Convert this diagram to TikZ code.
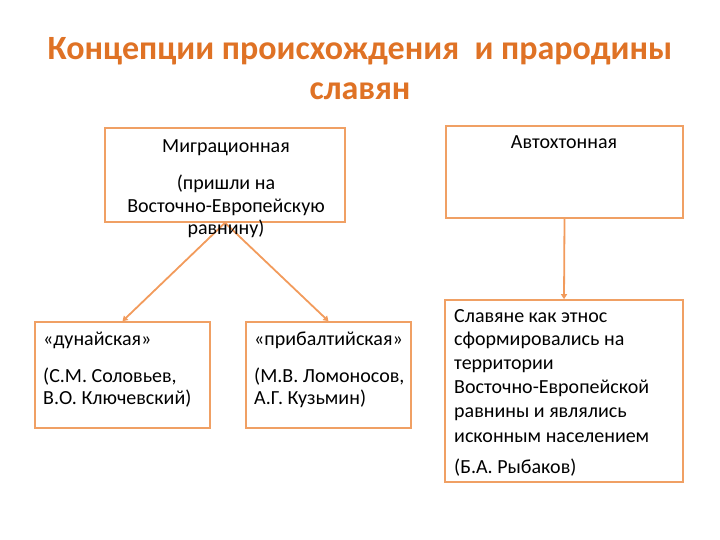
\documentclass[tikz,border=0pt]{standalone}
\usepackage{fontspec}
\setmainfont{Carlito}
\usetikzlibrary{arrows.meta}
\definecolor{titleorange}{HTML}{DF7225}
\definecolor{lineorange}{HTML}{F0A064}
\definecolor{arroworange}{HTML}{F29B5C}
\tikzset{
  box/.style={draw=lineorange, line width=1.6pt, inner sep=0pt},
  txt/.style={inner sep=0pt, font=\fontsize{20}{24}\selectfont, text=black},
  ttl/.style={inner sep=0pt, font=\fontsize{34}{40}\selectfont\bfseries, text=titleorange},
  arr/.style={draw=arroworange, line width=1.8pt, -{Triangle[length=5pt,width=6pt]}}
}
\begin{document}
\begin{tikzpicture}[x=1pt,y=-1pt]
\useasboundingbox (0,0) rectangle (720,540);
% title
\node[ttl, anchor=base] (t1) at (360,60) {Концепции происхождения\ \ и прародины};
\node[ttl, anchor=base] (t2) at (360,100) {славян};
% boxes
\node[box, minimum width=240pt, minimum height=94pt] (mig) at (225,175) {};
\node[box, minimum width=237pt, minimum height=92pt] (aut) at (564.5,172) {};
\node[box, minimum width=175pt, minimum height=106pt] (dun) at (122.5,375) {};
\node[box, minimum width=165pt, minimum height=106pt] (pri) at (328.5,375) {};
\node[box, minimum width=238pt, minimum height=182pt] (sla) at (564,391) {};
% connectors
\draw[arr] (mig.south) -- (dun.north);
\draw[arr] (mig.south) -- (pri.north);
\draw[arr] (aut.south) -- (sla.north);
% box texts
\node[txt, anchor=base] (m1) at (226,153) {Миграционная};
\node[txt, anchor=base] (m2) at (226,190) {(пришли на};
\node[txt, anchor=base] (m3) at (226,212) {Восточно-Европейскую};
\node[txt, anchor=base] (m4) at (226,234) {равнину)};
\node[txt, anchor=base] (a1) at (564,149) {Автохтонная};
\node[txt, anchor=base west] (d1) at (43,345) {«дунайская»};
\node[txt, anchor=base west] (d2) at (43,382) {(С.М. Соловьев,};
\node[txt, anchor=base west] (d3) at (43,404) {В.О. Ключевский)};
\node[txt, anchor=base west] (p1) at (254,345) {«прибалтийская»};
\node[txt, anchor=base west] (p2) at (254,382) {(М.В. Ломоносов,};
\node[txt, anchor=base west] (p3) at (254,404) {А.Г. Кузьмин)};
\node[txt, anchor=base west] (s1) at (454,322) {Славяне как этнос};
\node[txt, anchor=base west] (s2) at (454,345) {сформировались на};
\node[txt, anchor=base west] (s3) at (454,369) {территории};
\node[txt, anchor=base west] (s4) at (454,393) {Восточно-Европейской};
\node[txt, anchor=base west] (s5) at (454,417) {равнины и являлись};
\node[txt, anchor=base west] (s6) at (454,442) {исконным населением};
\node[txt, anchor=base west] (s7) at (454,473) {(Б.А. Рыбаков)};
\end{tikzpicture}
\end{document}
